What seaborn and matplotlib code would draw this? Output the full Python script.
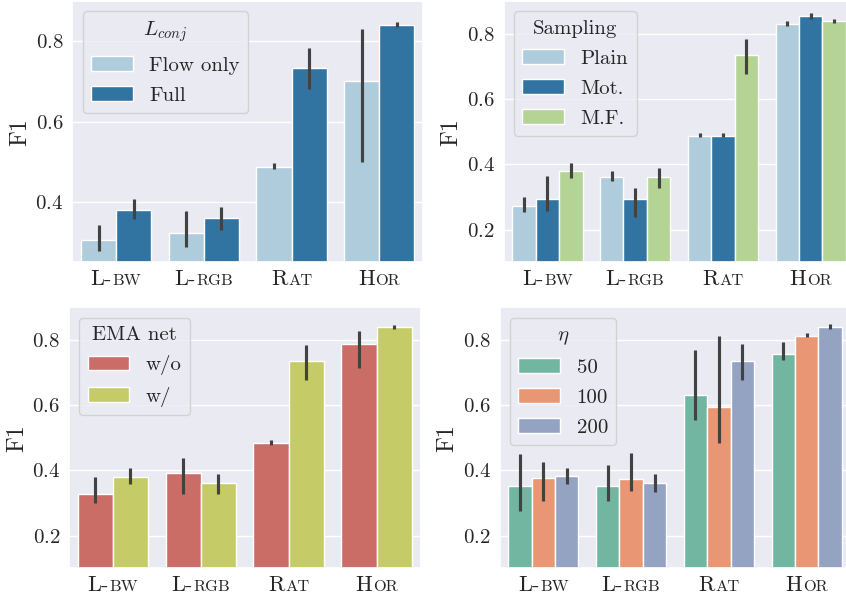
"""Ablation bar charts: F1 per dataset for four design choices."""

import matplotlib.pyplot as plt
import pandas as pd
import seaborn as sns
from matplotlib.offsetbox import AnnotationBbox, HPacker, TextArea

# dataset names, split into (normal, small-caps) parts
DATASETS = ["L-bw", "L-rgb", "Rat", "Hor"]
TICK_PARTS = [("L-", "BW"), ("L-", "RGB"), ("R", "AT"), ("H", "OR")]

# L_conj ablation
CONJ_LEVELS = ["Flow only", "Full"]
CONJ_MEAN = [[0.306, 0.322, 0.488, 0.702], [0.380, 0.359, 0.734, 0.841]]
CONJ_LO = [[0.278, 0.287, 0.483, 0.499], [0.358, 0.331, 0.681, 0.835]]
CONJ_HI = [[0.343, 0.378, 0.496, 0.830], [0.407, 0.388, 0.784, 0.849]]

# sampling ablation
SAMP_LEVELS = ["Plain", "Mot.", "M.F."]
SAMP_MEAN = [[0.271, 0.360, 0.488, 0.830], [0.295, 0.293, 0.488, 0.853], [0.381, 0.360, 0.734, 0.838]]
SAMP_LO = [[0.254, 0.348, 0.483, 0.823], [0.256, 0.239, 0.483, 0.844], [0.358, 0.329, 0.675, 0.832]]
SAMP_HI = [[0.299, 0.381, 0.497, 0.838], [0.363, 0.329, 0.497, 0.863], [0.405, 0.390, 0.785, 0.844]]

# EMA net ablation
EMA_LEVELS = ["w/o", "w/"]
EMA_MEAN = [[0.329, 0.393, 0.484, 0.788], [0.381, 0.361, 0.734, 0.839]]
EMA_LO = [[0.300, 0.327, 0.478, 0.713], [0.358, 0.329, 0.676, 0.832]]
EMA_HI = [[0.381, 0.439, 0.493, 0.828], [0.407, 0.389, 0.785, 0.847]]

# eta ablation
ETA_LEVELS = ["50", "100", "200"]
ETA_MEAN = [[0.353, 0.353, 0.631, 0.757], [0.376, 0.374, 0.593, 0.813], [0.382, 0.362, 0.736, 0.841]]
ETA_LO = [[0.276, 0.307, 0.554, 0.739], [0.307, 0.336, 0.485, 0.808], [0.358, 0.335, 0.678, 0.834]]
ETA_HI = [[0.449, 0.417, 0.770, 0.793], [0.427, 0.452, 0.812, 0.820], [0.407, 0.390, 0.787, 0.849]]

FS = 15
XFS = 16
TXT = ".15"


def to_frame(levels, means):
    rows = []
    for level, vals in zip(levels, means):
        for ds, v in zip(DATASETS, vals):
            rows.append({"dataset": ds, "variant": level, "f1": v})
    return pd.DataFrame(rows)


def panel(ax, levels, means, lo, hi, palette, title, ylim):
    df = to_frame(levels, means)
    sns.barplot(data=df, x="dataset", y="f1", hue="variant", palette=palette,
                errorbar=None, ax=ax)
    for cont, l_row, h_row in zip(ax.containers, lo, hi):
        for bar, l, h in zip(cont, l_row, h_row):
            xc = bar.get_x() + bar.get_width() / 2
            ax.vlines(xc, l, h, color=".26", lw=2.25, zorder=3)
    ax.set_xlim(-0.5, 3.5)
    ax.set_ylim(*ylim)
    ax.set_yticks([t for t in [0.2, 0.4, 0.6, 0.8] if t > ylim[0]])
    ax.set_xticks(range(4))
    ax.set_xticklabels([])
    ax.set_xlabel("")
    ax.set_ylabel("F1", fontsize=17.5, color=TXT)
    ax.yaxis.set_label_coords(-0.117, 0.5)
    ax.tick_params(axis="both", length=0)
    ax.tick_params(axis="y", labelsize=FS, colors=TXT, pad=6.3)
    # small-caps style tick labels
    for i, (big, small) in enumerate(TICK_PARTS):
        box = HPacker(children=[
            TextArea(big, textprops=dict(fontsize=XFS, color=TXT)),
            TextArea(small, textprops=dict(fontsize=XFS * 0.74, color=TXT)),
        ], align="baseline", pad=0, sep=0.5)
        ab = AnnotationBbox(box, (i, 0), xycoords=ax.get_xaxis_transform(),
                            xybox=(0, -5), boxcoords="offset points",
                            box_alignment=(0.5, 1), frameon=False)
        ax.add_artist(ab)
    handles, labels = ax.get_legend_handles_labels()
    ax.legend(handles, labels, title=title, loc="upper left", fontsize=FS,
              title_fontsize=FS, labelspacing=0.55)


def main():
    sns.set_theme(style="darkgrid")
    plt.rcParams["font.family"] = ["cmr10"]
    plt.rcParams["mathtext.fontset"] = "cm"
    plt.rcParams["axes.formatter.use_mathtext"] = True

    W, H = 846, 598
    fig = plt.figure(figsize=(W / 100, H / 100), dpi=100)

    def box(l, t, r, b):
        return [l / W, 1 - b / H, (r - l) / W, (b - t) / H]

    ax_tl = fig.add_axes(box(72.2, 1, 423.1, 262.3))
    ax_tr = fig.add_axes(box(503.6, 1, 854.5, 262.3))
    ax_bl = fig.add_axes(box(68.9, 307.3, 420.5, 568.3))
    ax_br = fig.add_axes(box(499.5, 307.3, 850.5, 568.3))

    paired = sns.color_palette("Paired")
    panel(ax_tl, CONJ_LEVELS, CONJ_MEAN, CONJ_LO, CONJ_HI, paired[:2],
          r"$L_{conj}$", (0.25, 0.9))
    panel(ax_tr, SAMP_LEVELS, SAMP_MEAN, SAMP_LO, SAMP_HI, paired[:3],
          "Sampling", (0.1, 0.9))
    panel(ax_bl, EMA_LEVELS, EMA_MEAN, EMA_LO, EMA_HI,
          sns.color_palette("hls", 6)[:2], "EMA net", (0.1, 0.9))
    panel(ax_br, ETA_LEVELS, ETA_MEAN, ETA_LO, ETA_HI,
          sns.color_palette("Set2")[:3], r"$\eta$", (0.1, 0.9))

    fig.savefig("out.png", dpi=100)
    plt.close(fig)


if __name__ == "__main__":
    main()
